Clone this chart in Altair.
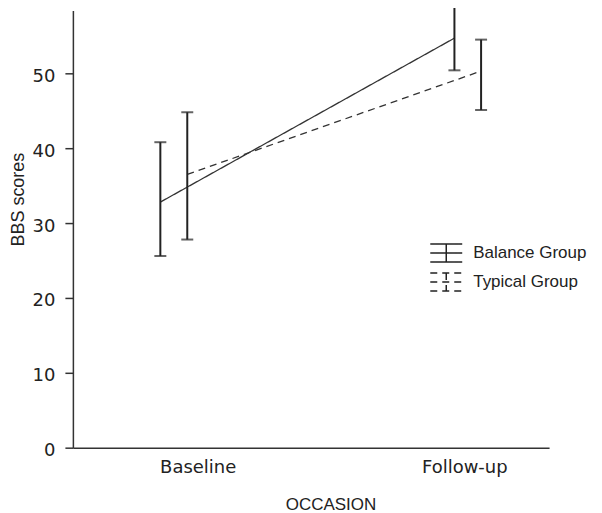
import altair as alt
import pandas as pd

occasions = ["Baseline", "Follow-up"]
occasion_pos = [1, 2]
groups = ["Balance Group", "Typical Group"]

# x positions of each group's bar (occasion index plus dodge)
balance_x = [0.860, 1.963]
typical_x = [0.961, 2.063]

balance_mean = [32.8, 54.7]
balance_low = [25.6, 50.4]
balance_high = [40.8, 59.2]

typical_mean = [36.5, 50.3]
typical_low = [27.8, 45.1]
typical_high = [44.8, 54.5]

rows = []
for i, occ in enumerate(occasions):
    rows.append(dict(group=groups[0], occasion=occ, x=balance_x[i],
                     mean=balance_mean[i], low=balance_low[i], high=balance_high[i]))
    rows.append(dict(group=groups[1], occasion=occ, x=typical_x[i],
                     mean=typical_mean[i], low=typical_low[i], high=typical_high[i]))
df = pd.DataFrame(rows)

label_expr = " : ".join(
    f"datum.value == {p} ? '{o}'" for p, o in zip(occasion_pos[:-1], occasions[:-1])
) + f" : '{occasions[-1]}'"

xscale = alt.Scale(domain=[0.532, 2.318], nice=False, zero=False)
yscale = alt.Scale(domain=[0, 58.4], nice=False)

x_enc = alt.X(
    "x:Q",
    scale=xscale,
    axis=alt.Axis(
        values=occasion_pos,
        labelExpr=label_expr,
        title="OCCASION",
        grid=False,
        ticks=False,
        labelPadding=11,
        labelFont="DejaVu Sans",
        labelFontSize=18,
        labelColor="#222",
        labelBaseline="top",
        titleFont="Liberation Sans",
        titleFontSize=17,
        titleFontWeight="normal",
        titleColor="#222",
        titleX=258,
        titleY=57,
        titleBaseline="middle",
        titleAlign="center",
        domainColor="#333",
        domainWidth=1.5,
    ),
)
y_enc = alt.Y(
    "mean:Q",
    scale=yscale,
    axis=alt.Axis(
        values=[0, 10, 20, 30, 40, 50],
        title="BBS scores",
        grid=False,
        tickSize=8,
        tickColor="#333",
        tickWidth=1.5,
        labelPadding=10,
        labelOffset=3,
        labelFont="DejaVu Sans",
        labelFontSize=18,
        labelColor="#222",
        titleFont="Liberation Sans",
        titleFontSize=18,
        titleFontWeight="normal",
        titleColor="#222",
        titleX=-54,
        titleY=189,
        titleBaseline="middle",
        titleAlign="center",
        domainColor="#333",
        domainWidth=1.5,
    ),
)

path_balance = "M-1,-0.56H1M-1,0.56H1M0,-0.56V0.56M-1,0H1"
path_typical = "M-1,-0.56H1M-1,0.56H1M0,-0.56V0.56M-1,0H-0.65M0.55,0H0.95"
shape_expr = f"datum.value == '{groups[1]}' ? '{path_typical}' : '{path_balance}'"

legend_common = dict(
    title=None,
    orient="none",
    legendX=357,
    legendY=226,
    symbolType=path_balance,
    symbolSize=1024,
    symbolStrokeWidth=1.5,
    symbolStrokeColor="#222",
    labelFont="Liberation Sans",
    labelFontSize=17,
    labelColor="#222",
    labelOffset=10,
    rowPadding=-10,
)

encode_variants = [
    {"symbols": {"update": {"shape": {"signal": shape_expr},
                            "strokeDash": {"value": [1, 0]}}}},
    {"symbols": {"shape": {"signal": shape_expr},
                 "strokeDash": {"value": [1, 0]}}},
    {"symbols": {"shape": {"expr": shape_expr},
                 "strokeDash": {"value": [1, 0]}}},
    None,
]


def build(custom_encode):
    leg_kwargs = dict(legend_common)
    if custom_encode is not None:
        leg_kwargs["encode"] = custom_encode
    base = alt.Chart(df)
    lines = base.mark_line(color="#333", strokeWidth=1.3).encode(
        x=x_enc,
        y=y_enc,
        strokeDash=alt.StrokeDash(
            "group:N",
            scale=alt.Scale(domain=groups, range=[[1, 0], [7, 5]]),
            legend=alt.Legend(**leg_kwargs),
        ),
        detail="group:N",
    )
    rules = base.mark_rule(color="#222", strokeWidth=2).encode(
        x="x:Q", y="low:Q", y2="high:Q"
    )
    caps_low = base.mark_tick(color="#222", orient="horizontal", size=12, thickness=2).encode(
        x="x:Q", y="low:Q"
    )
    caps_high = base.mark_tick(color="#222", orient="horizontal", size=12, thickness=2).encode(
        x="x:Q", y="high:Q"
    )
    ch = (
        alt.layer(lines, rules, caps_low, caps_high)
        .properties(
            width=477,
            height=438,
            autosize=alt.AutoSizeParams(type="none"),
            padding={"left": 65, "top": 2, "right": 45, "bottom": 65},
        )
        .configure_view(stroke=None)
    )
    ch.to_dict()
    return ch


chart = None
for variant in encode_variants:
    try:
        chart = build(variant)
        break
    except Exception:
        continue

chart.save("out.html", embed_options={"renderer": "svg", "actions": False})
